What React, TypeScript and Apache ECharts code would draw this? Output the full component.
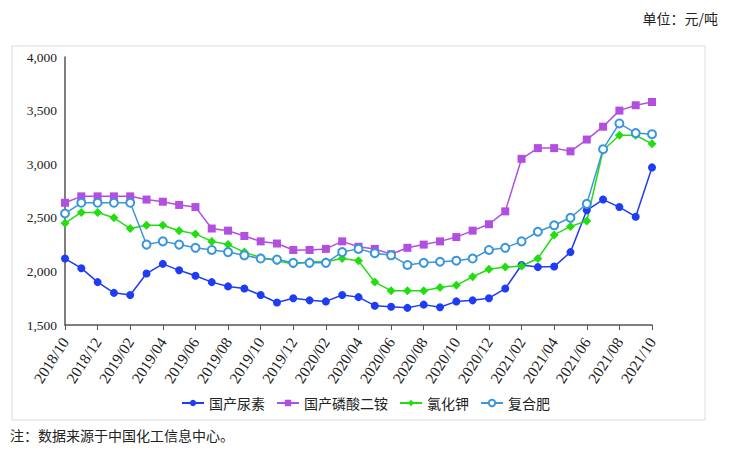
import React, { useEffect, useRef } from 'react';
import * as echarts from 'echarts';

const months = [
  '2018/10', '2018/11', '2018/12', '2019/01', '2019/02', '2019/03', '2019/04', '2019/05', '2019/06',
  '2019/07', '2019/08', '2019/09', '2019/10', '2019/11', '2019/12', '2020/01', '2020/02', '2020/03',
  '2020/04', '2020/05', '2020/06', '2020/07', '2020/08', '2020/09', '2020/10', '2020/11', '2020/12',
  '2021/01', '2021/02', '2021/03', '2021/04', '2021/05', '2021/06', '2021/07', '2021/08', '2021/09',
  '2021/10',
];

const urea = [
  2120, 2030, 1900, 1800, 1780, 1980, 2070, 2010, 1960, 1900, 1860, 1840, 1780, 1710, 1750, 1730,
  1720, 1780, 1760, 1680, 1670, 1660, 1690, 1665, 1720, 1730, 1750, 1840, 2060, 2040, 2045, 2180,
  2570, 2670, 2600, 2510, 2970,
];
const dap = [
  2640, 2700, 2700, 2700, 2700, 2670, 2650, 2620, 2600, 2400, 2380, 2330, 2280, 2260, 2200, 2200,
  2210, 2280, 2230, 2210, 2160, 2220, 2250, 2280, 2320, 2380, 2440, 2560, 3050, 3150, 3150, 3120,
  3230, 3350, 3500, 3550, 3580,
];
const potash = [
  2450, 2550, 2550, 2500, 2400, 2430, 2430, 2380, 2350, 2280, 2250, 2180, 2130, 2100, 2070, 2090,
  2090, 2120, 2100, 1900, 1820, 1820, 1820, 1850, 1870, 1950, 2020, 2040, 2050, 2120, 2340, 2420,
  2470, 3130, 3270, 3270, 3190,
];
const compound = [
  2540, 2640, 2640, 2640, 2640, 2250, 2280, 2250, 2220, 2200, 2180, 2150, 2120, 2110, 2080, 2080,
  2080, 2180, 2210, 2170, 2150, 2060, 2080, 2090, 2100, 2120, 2200, 2220, 2280, 2370, 2430, 2500,
  2630, 3140, 3380, 3290, 3280,
];

const names = ['国产尿素', '国产磷酸二铵', '氯化钾', '复合肥'];

const SERIF = '"Liberation Serif", "DejaVu Serif", serif';
const CJK = '"Noto Sans CJK SC", sans-serif';

export default function App() {
  const ref = useRef<HTMLDivElement | null>(null);

  useEffect(() => {
    document.body.style.margin = '0';
    if (!ref.current) return;
    const chart = echarts.init(ref.current, undefined, { renderer: 'svg' });
    const axisColor = '#555';
    chart.setOption({
      animation: false,
      backgroundColor: '#fff',
      graphic: [
        {
          type: 'rect',
          shape: { x: 12, y: 46, width: 693, height: 374 },
          style: { fill: 'none', stroke: '#dcdcdc', lineWidth: 1 },
          silent: true,
        },
        {
          type: 'text',
          right: 13,
          top: 11,
          style: { text: '单位：元/吨', font: `14px ${CJK}`, fill: '#222' },
        },
        {
          type: 'text',
          left: 10,
          top: 428,
          style: { text: '注：数据来源于中国化工信息中心。', font: `14px ${CJK}`, fill: '#222' },
        },
      ],
      grid: { left: 65, right: 79, top: 57, bottom: 130 },
      legend: {
        data: names,
        left: 'center',
        top: 391,
        itemWidth: 22,
        itemHeight: 8,
        itemGap: 11,
        textStyle: { fontFamily: CJK, fontSize: 14, color: '#222' },
      },
      xAxis: {
        type: 'category',
        data: months,
        boundaryGap: false,
        axisLine: { lineStyle: { color: axisColor, width: 1.5 } },
        axisTick: { interval: 1, length: 5, lineStyle: { color: axisColor } },
        axisLabel: {
          interval: 1,
          rotate: 57,
          fontFamily: SERIF,
          fontSize: 15.5,
          color: '#222',
          margin: 14,
          padding: [24, 0, 0, 0],
        },
      },
      yAxis: {
        type: 'value',
        min: 1500,
        max: 4000,
        interval: 500,
        axisLine: { show: true, lineStyle: { color: axisColor, width: 1.5 } },
        axisTick: { show: false },
        splitLine: { show: false },
        axisLabel: {
          fontFamily: SERIF,
          fontSize: 13.5,
          color: '#222',
          margin: 8,
          formatter: (v: number) => v.toLocaleString('en-US'),
        },
      },
      series: [
        {
          name: names[0],
          type: 'line',
          data: urea,
          symbol: 'circle',
          symbolSize: 8,
          color: '#1f3cf5',
          lineStyle: { width: 1.5 },
        },
        {
          name: names[1],
          type: 'line',
          data: dap,
          symbol: 'rect',
          symbolSize: 8,
          color: '#b24fe0',
          lineStyle: { width: 1.5 },
        },
        {
          name: names[2],
          type: 'line',
          data: potash,
          symbol: 'diamond',
          symbolSize: 9,
          color: '#22dd10',
          lineStyle: { width: 1.5 },
        },
        {
          name: names[3],
          type: 'line',
          data: compound,
          symbol: 'emptyCircle',
          symbolSize: 8,
          color: '#3a96dc',
          itemStyle: { borderWidth: 1.5 },
          lineStyle: { width: 1.5 },
        },
      ],
    });
    return () => chart.dispose();
  }, []);

  return <div ref={ref} style={{ width: 731, height: 455 }} />;
}
